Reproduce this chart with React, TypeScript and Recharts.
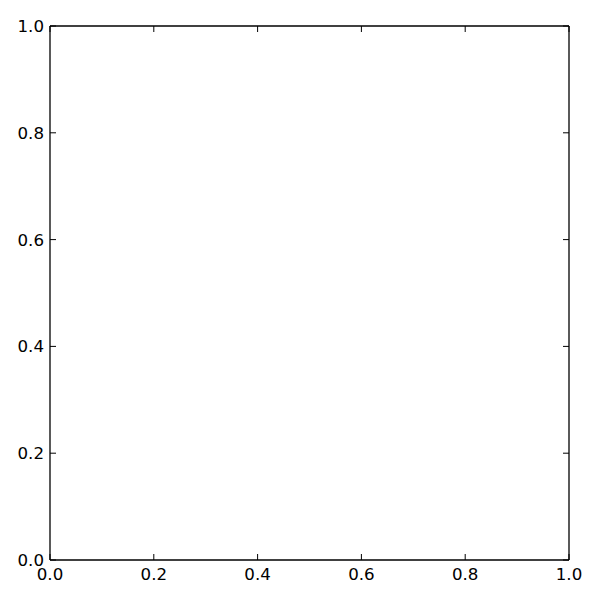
import { ScatterChart, Scatter, XAxis, YAxis } from 'recharts';

// The reference is an empty set of axes: no series values, only the tick grid.
const points: { x: number; y: number }[] = [];
const xTicks = [0, 0.2, 0.4, 0.6, 0.8, 1.0];
const yTicks = [0, 0.2, 0.4, 0.6, 0.8, 1.0];

const INK = '#000';
const FONT = 'DejaVu Sans';
const FONT_SIZE = 16.67;
const TICK_LEN = 6;
const frame = { stroke: INK, strokeWidth: 1.3 };
const fmt = (v: number) => v.toFixed(1);

// matplotlib classic: ticks point inward, labels only on bottom and left
function InTick(props: any) {
  const { x, y, payload, side } = props;
  const v = payload.value as number;
  if (side === 'bottom')
    return (
      <g>
        <line x1={x} x2={x} y1={y} y2={y - TICK_LEN} stroke={INK} />
        <text x={x} y={y + 20} textAnchor="middle" fill={INK} fontSize={FONT_SIZE} fontFamily={FONT}>{fmt(v)}</text>
      </g>
    );
  if (side === 'top') return <line x1={x} x2={x} y1={y} y2={y + TICK_LEN} stroke={INK} />;
  if (side === 'left')
    return (
      <g>
        <line x1={x} x2={x + TICK_LEN} y1={y} y2={y} stroke={INK} />
        <text x={x - 6} y={y + 6} textAnchor="end" fill={INK} fontSize={FONT_SIZE} fontFamily={FONT}>{fmt(v)}</text>
      </g>
    );
  return <line x1={x} x2={x - TICK_LEN} y1={y} y2={y} stroke={INK} />;
}

export default function App() {
  return (
    <div style={{ position: 'fixed', left: 0, top: 0, width: 600, height: 600, background: '#fff' }}>
      <ScatterChart width={600} height={600} margin={{ top: 25, right: 30, bottom: 39, left: 49 }}>
        <XAxis xAxisId="b" dataKey="x" type="number" domain={[0, 1]} allowDataOverflow ticks={xTicks}
          orientation="bottom" height={1} tickSize={0} tickMargin={0} tick={<InTick side="bottom" />}
          axisLine={frame} tickLine={false} interval={0} />
        <XAxis xAxisId="t" dataKey="x" type="number" domain={[0, 1]} allowDataOverflow ticks={xTicks}
          orientation="top" height={1} tickSize={0} tickMargin={0} tick={<InTick side="top" />}
          axisLine={frame} tickLine={false} interval={0} />
        <YAxis yAxisId="l" dataKey="y" type="number" domain={[0, 1]} allowDataOverflow ticks={yTicks}
          orientation="left" width={1} tickSize={0} tickMargin={0} tick={<InTick side="left" />}
          axisLine={frame} tickLine={false} interval={0} />
        <YAxis yAxisId="r" dataKey="y" type="number" domain={[0, 1]} allowDataOverflow ticks={yTicks}
          orientation="right" width={1} tickSize={0} tickMargin={0} tick={<InTick side="right" />}
          axisLine={frame} tickLine={false} interval={0} />
        <Scatter data={points} xAxisId="b" yAxisId="l" fill="#1f77b4" isAnimationActive={false} />
      </ScatterChart>
    </div>
  );
}
